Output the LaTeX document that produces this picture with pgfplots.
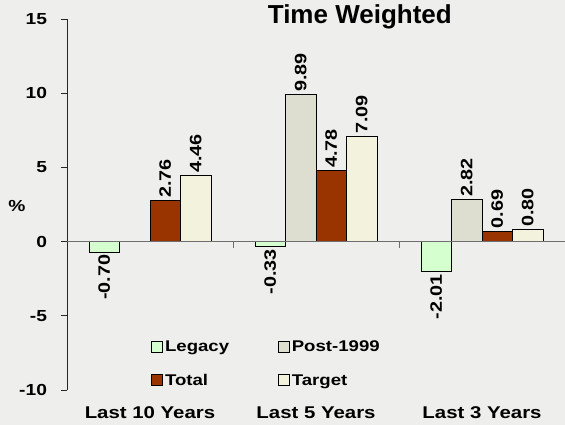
\documentclass[border=0pt]{standalone}
\usepackage{fontspec}
\setmainfont{Liberation Sans}[FakeStretch=1.2]
\newfontfamily\titlefont{Liberation Sans}
\usepackage{pgfplots}
\pgfplotsset{compat=1.18}

\definecolor{bgcol}{RGB}{238,238,236}
\definecolor{legacycol}{RGB}{214,255,208}
\definecolor{postcol}{RGB}{221,221,208}
\definecolor{totalcol}{RGB}{153,51,0}
\definecolor{targetcol}{RGB}{243,243,221}
\definecolor{zerocol}{RGB}{110,110,110}

\newcommand{\fs}[1]{\fontsize{#1}{1.2\dimexpr#1\relax}\selectfont\bfseries}

\begin{document}
\begin{tikzpicture}
\path[use as bounding box, fill=bgcol] (0,0) rectangle (565bp,425bp);
\begin{axis}[
  at={(67bp,35bp)}, anchor=south west,
  scale only axis, width=498bp, height=371bp,
  xmin=-0.5, xmax=2.5, ymin=-10, ymax=15,
  axis y line*=left, axis x line*=bottom,
  x axis line style={draw=none},
  y axis line style={line width=0.9pt, black!85},
  xtick={0,1,2},
  xticklabels={Last 10 Years, Last 5 Years, Last 3 Years},
  xtick style={draw=none},
  xticklabel style={font=\fs{17bp}, anchor=base, yshift=-23bp},
  ytick={-10,-5,0,5,10,15},
  tick align=outside,
  ytick style={line width=0.9pt, black!85},
  major tick length=5.5bp,
  yticklabel style={font=\fs{16bp}, xshift=-11bp},
  /pgf/number format/assume math mode=true,
  ylabel={\%},
  ylabel style={font=\fs{16bp}, rotate=-90, anchor=center, at={(axis description cs:-0.1004,0.496)}},
  title={\titlefont\fs{26bp}Time Weighted},
  every axis title shift=0pt,
  title style={anchor=center, at={(axis description cs:0.588,1.0054)}},
  ybar, bar width=0.184,
  clip=false,
  every axis plot/.append style={draw=black, line width=0.7pt},
  nodes near coords={\pgfmathprintnumber[fixed, fixed zerofill, precision=2, assume math mode=true]{\pgfplotspointmeta}},
  nodes near coords style={font=\fs{16.5bp}, rotate=90, inner sep=2.5bp},
  legend columns=2,
  legend cell align=left,
  legend style={draw=none, fill=none, font=\fs{15.5bp},
    at={(axis description cs:0.169,0.138)}, anchor=north west,
    inner sep=0pt, row sep=17bp,
    /tikz/every even column/.append style={column sep=47bp}},
  legend image code/.code={\draw[#1, line width=0.7pt] (0bp,-5bp) rectangle (11bp,6bp);},
]
\addplot[fill=legacycol, bar shift=-0.276, nodes near coords style={anchor=east}]
  coordinates {(0,-0.70) (1,-0.33) (2,-2.01)};
\addplot[fill=postcol, bar shift=-0.092, nodes near coords style={anchor=west}]
  coordinates {(1,9.89) (2,2.82)};
\addplot[fill=totalcol, bar shift=0.092, nodes near coords style={anchor=west}]
  coordinates {(0,2.76) (1,4.78) (2,0.69)};
\addplot[fill=targetcol, bar shift=0.276, nodes near coords style={anchor=west}]
  coordinates {(0,4.46) (1,7.09) (2,0.80)};
\legend{Legacy, Post-1999, Total, Target}
% zero line with category separators
\draw[zerocol, line width=0.9pt] (axis cs:-0.5,0) -- (axis cs:2.5,0);
\draw[zerocol, line width=0.9pt] (axis cs:0.5,0) -- ([yshift=-6bp]axis cs:0.5,0);
\draw[zerocol, line width=0.9pt] (axis cs:1.5,0) -- ([yshift=-6bp]axis cs:1.5,0);
\end{axis}
\end{tikzpicture}
\end{document}
